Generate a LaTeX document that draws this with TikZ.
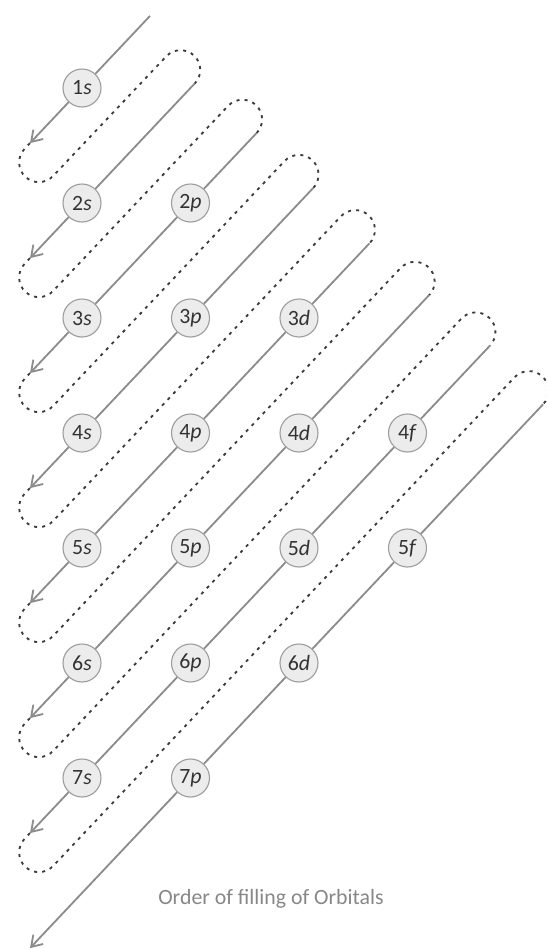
\documentclass[tikz,border=0pt]{standalone}
\usepackage{fontspec}
\setmainfont{Carlito}
\usepackage{tikz}
\usetikzlibrary{arrows.meta,calc}
\definecolor{orbfill}{RGB}{236,236,236}
\definecolor{orbdraw}{RGB}{158,158,158}
\definecolor{lanecolor}{RGB}{140,140,140}
\definecolor{turncolor}{RGB}{60,60,60}
\definecolor{captcolor}{RGB}{135,135,135}

\begin{document}
\begin{tikzpicture}[
    x=0.025cm, y=-0.025cm,
    orb/.style={circle, draw=orbdraw, fill=orbfill, line width=0.8pt, minimum size=0.95cm, inner sep=0pt, font=\fontsize{15.5}{18}\selectfont, text=black!80},
    lane/.style={draw=lanecolor, line width=1.3pt},
    arrow/.style={lane, -{Straight Barb[length=2.6mm, width=3.4mm]}},
    turn/.style={draw=turncolor, line width=1.3pt, dash pattern=on 2.2pt off 3.6pt}
]
\useasboundingbox (0,0) rectangle (547,950);

% orbitals
\node[orb] (o1s) at (82,88) {1\textit{s}};
\node[orb] (o2s) at (82,203) {2\textit{s}};
\node[orb] (o2p) at (190.5,203) {2\textit{p}};
\node[orb] (o3s) at (82,318) {3\textit{s}};
\node[orb] (o3p) at (190.5,318) {3\textit{p}};
\node[orb] (o3d) at (299,318) {3\textit{d}};
\node[orb] (o4s) at (82,433) {4\textit{s}};
\node[orb] (o4p) at (190.5,433) {4\textit{p}};
\node[orb] (o4d) at (299,433) {4\textit{d}};
\node[orb] (o4f) at (407.5,433) {4\textit{f}};
\node[orb] (o5s) at (82,548) {5\textit{s}};
\node[orb] (o5p) at (190.5,548) {5\textit{p}};
\node[orb] (o5d) at (299,548) {5\textit{d}};
\node[orb] (o5f) at (407.5,548) {5\textit{f}};
\node[orb] (o6s) at (82,663) {6\textit{s}};
\node[orb] (o6p) at (190.5,663) {6\textit{p}};
\node[orb] (o6d) at (299,663) {6\textit{d}};
\node[orb] (o7s) at (82,778) {7\textit{s}};
\node[orb] (o7p) at (190.5,778) {7\textit{p}};

% ends of the diagonals
\coordinate (top1) at (150.0,15.9);
\coordinate (top2) at (194.8,83.4);
\coordinate (top3) at (256.7,132.9);
\coordinate (top4) at (313.1,188.1);
\coordinate (top5) at (369.5,243.3);
\coordinate (top6) at (429.2,295.0);
\coordinate (top7) at (490.0,345.6);
\coordinate (top8) at (543.1,404.3);
\coordinate (end1) at (30,143.1);
\coordinate (end2) at (30,258.1);
\coordinate (end3) at (30,373.1);
\coordinate (end4) at (30,488.1);
\coordinate (end5) at (30,603.1);
\coordinate (end6) at (30,718.1);
\coordinate (end7) at (30,833.1);
\coordinate (end8) at (30,948.1);

% diagonals
\draw[arrow] (top1) -- (o1s) -- (end1);
\draw[arrow] (top2) -- (o2s) -- (end2);
\draw[arrow] (top3) -- (o2p) -- (o3s) -- (end3);
\draw[arrow] (top4) -- (o3p) -- (o4s) -- (end4);
\draw[arrow] (top5) -- (o3d) -- (o4p) -- (o5s) -- (end5);
\draw[arrow] (top6) -- (o4d) -- (o5p) -- (o6s) -- (end6);
\draw[arrow] (top7) -- (o4f) -- (o5d) -- (o6p) -- (o7s) -- (end7);
\draw[arrow] (top8) -- (o5f) -- (o6d) -- (o7p) -- (end8);

% dashed turns
\draw[turn] (end1) -- ++(-5.5,5.8) arc[start angle=223.3, end angle=43.3, radius=19.7] -- ($(top2)+(-28.6,-27.0)$) arc[start angle=-136.7, end angle=43.3, radius=19.7];
\draw[turn] (end2) -- ++(-5.5,5.8) arc[start angle=223.3, end angle=43.3, radius=19.7] -- ($(top3)+(-28.6,-27.0)$) arc[start angle=-136.7, end angle=43.3, radius=19.7];
\draw[turn] (end3) -- ++(-5.5,5.8) arc[start angle=223.3, end angle=43.3, radius=19.7] -- ($(top4)+(-28.6,-27.0)$) arc[start angle=-136.7, end angle=43.3, radius=19.7];
\draw[turn] (end4) -- ++(-5.5,5.8) arc[start angle=223.3, end angle=43.3, radius=19.7] -- ($(top5)+(-28.6,-27.0)$) arc[start angle=-136.7, end angle=43.3, radius=19.7];
\draw[turn] (end5) -- ++(-5.5,5.8) arc[start angle=223.3, end angle=43.3, radius=19.7] -- ($(top6)+(-28.6,-27.0)$) arc[start angle=-136.7, end angle=43.3, radius=19.7];
\draw[turn] (end6) -- ++(-5.5,5.8) arc[start angle=223.3, end angle=43.3, radius=19.7] -- ($(top7)+(-28.6,-27.0)$) arc[start angle=-136.7, end angle=43.3, radius=19.7];
\draw[turn] (end7) -- ++(-5.5,5.8) arc[start angle=223.3, end angle=43.3, radius=19.7] -- ($(top8)+(-28.6,-27.0)$) arc[start angle=-136.7, end angle=43.3, radius=19.7];

% caption
\node[font=\fontsize{15.5}{18}\selectfont, text=captcolor] (caption) at (271,899) {Order of filling of Orbitals};

\end{tikzpicture}
\end{document}
